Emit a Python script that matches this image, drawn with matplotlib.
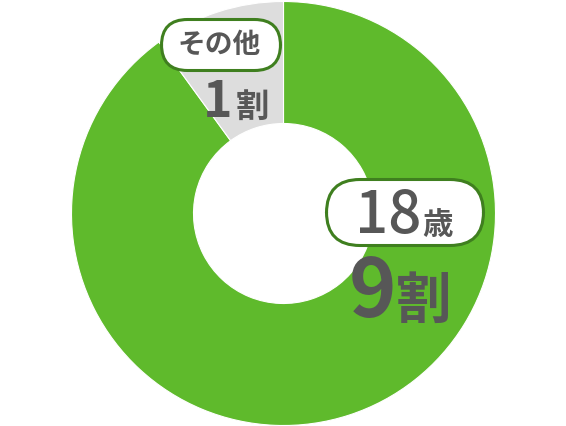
import matplotlib.pyplot as plt
from matplotlib.patches import FancyBboxPatch

plt.rcParams['font.family'] = ['Noto Sans CJK JP', 'DejaVu Sans']

labels = ['18歳', 'その他']
shares = [9, 1]
share_labels = ['9', '1']
colors = ['#5fba2c', '#dddddd']

W, H = 566, 426
fig = plt.figure(figsize=(W / 100, H / 100), dpi=100)
ax = fig.add_axes([0, 0, 1, 1])

cx, cy = 283.5, H - 213.5
ax.pie(shares, colors=colors, startangle=90, counterclock=False,
       radius=212, center=(cx, cy), frame=True,
       wedgeprops=dict(width=122, edgecolor='white', linewidth=0.8))
ax.set_xlim(0, W)
ax.set_ylim(0, H)
ax.set_aspect('equal')
ax.axis('off')

txt = '#575757'
border = '#3f7f1f'


def pill(x0, y0, x1, y1):
    # pixel coords from top-left
    h = y1 - y0
    box = FancyBboxPatch((x0 + h / 2, H - y1 + h / 2), x1 - x0 - h, 0.0001,
                         boxstyle='round,pad=%f,rounding_size=%f' % (h / 2 - 0.5, h / 2),
                         fc='white', ec=border, lw=2.2, zorder=5)
    ax.add_patch(box)


# その他
pill(161, 19, 281, 71)
ax.text(219, H - 45, labels[1], ha='center', va='center', fontsize=20,
        fontweight='bold', color=txt, zorder=6)
ax.text(232, H - 117, share_labels[1], ha='right', va='baseline', fontsize=36,
        fontweight='bold', color=txt, zorder=6)
ax.text(236, H - 117, '割', ha='left', va='baseline', fontsize=24,
        fontweight='bold', color=txt, zorder=6)

# 18歳
pill(326, 179, 484, 246)
ax.text(421, H - 233, labels[0][:2], ha='right', va='baseline', fontsize=42,
        fontweight='medium', color=txt, zorder=6)
ax.text(422, H - 234, labels[0][2:], ha='left', va='baseline', fontsize=22,
        fontweight='bold', color=txt, zorder=6)

ax.text(396, H - 317, share_labels[0], ha='right', va='baseline', fontsize=58,
        fontweight='bold', color=txt, zorder=6)
ax.text(396, H - 318, '割', ha='left', va='baseline', fontsize=40,
        fontweight='bold', color=txt, zorder=6)

fig.savefig('out.png', dpi=100)
